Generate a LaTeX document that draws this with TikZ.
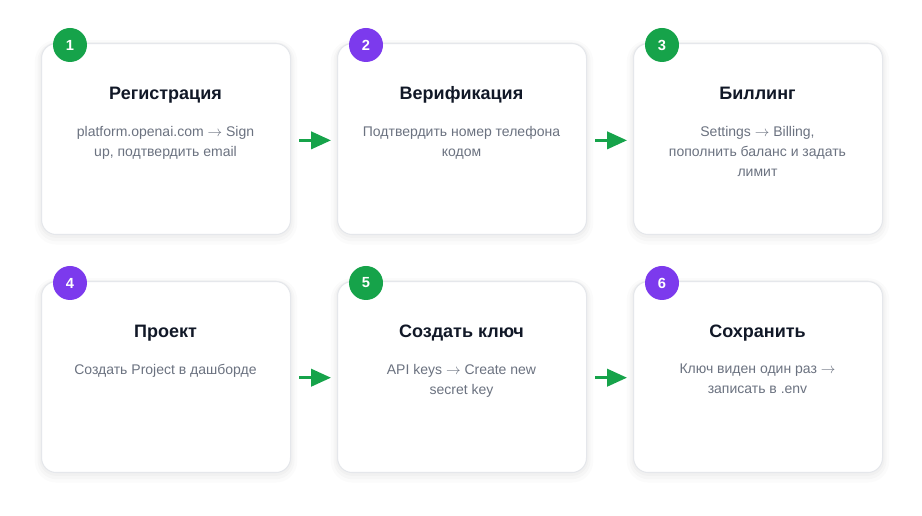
\documentclass[tikz,border=0pt]{standalone}
\usepackage{fontspec}
\setmainfont{Liberation Sans}
\usetikzlibrary{arrows.meta}
\definecolor{cgreen}{HTML}{16A34A}
\definecolor{cpurple}{HTML}{7C3AED}
\definecolor{cborder}{HTML}{E5E7EB}
\definecolor{ctitle}{HTML}{111827}
\definecolor{cdesc}{HTML}{6B7280}
\newcommand{\ra}{\ensuremath{\rightarrow}}
\tikzset{
  card/.style={draw=cborder, line width=0.8pt, fill=white, rounded corners=11pt,
    minimum width=186.75pt, minimum height=143.25pt, inner sep=0pt, anchor=north west,
    preaction={draw=black, draw opacity=0.015, line width=10pt, transform canvas={yshift=-2.5pt}},
    preaction={draw=black, draw opacity=0.02, line width=6pt, transform canvas={yshift=-2pt}},
    preaction={draw=black, draw opacity=0.02, line width=3pt, transform canvas={yshift=-1pt}}},
  badge/.style={circle, minimum size=25.5pt, inner sep=0pt, text=white,
    font=\fontsize{11pt}{12pt}\selectfont\bfseries},
  ttl/.style={anchor=base, inner sep=0pt, text=ctitle, font=\fontsize{13.5pt}{15pt}\selectfont\bfseries},
  dsc/.style={anchor=north, inner sep=0pt, align=center, text=cdesc, font=\fontsize{10.5pt}{15pt}\selectfont},
  arr/.style={draw=cgreen, line width=2.25pt, -{Triangle[length=15pt,width=13pt]}}
}
\begin{document}
\begin{tikzpicture}[x=0.75pt,y=-0.75pt]
\useasboundingbox[fill=white] (0,0) rectangle (922,516);
% cards
\node[card] (c1) at (41,43) {};
\node[card] (c2) at (337,43) {};
\node[card] (c3) at (633,43) {};
\node[card] (c4) at (41,281) {};
\node[card] (c5) at (337,281) {};
\node[card] (c6) at (633,281) {};
% badges
\node[badge, fill=cgreen] (b1) at (70,45) {1};
\node[badge, fill=cpurple] (b2) at (366,45) {2};
\node[badge, fill=cgreen] (b3) at (662,45) {3};
\node[badge, fill=cpurple] (b4) at (70,283) {4};
\node[badge, fill=cgreen] (b5) at (366,283) {5};
\node[badge, fill=cpurple] (b6) at (662,283) {6};
% titles
\node[ttl] (t1) at (165.5,99.5) {Регистрация};
\node[ttl] (t2) at (461.5,99.5) {Верификация};
\node[ttl] (t3) at (757.5,99.5) {Биллинг};
\node[ttl] (t4) at (165.5,337.5) {Проект};
\node[ttl] (t5) at (461.5,337.5) {Создать ключ};
\node[ttl] (t6) at (757.5,337.5) {Сохранить};
% descriptions
\node[dsc] (d1) at (165.5,126) {platform.openai.com \ra{} Sign\\up, подтвердить email};
\node[dsc] (d2) at (461.5,126) {Подтвердить номер телефона\\кодом};
\node[dsc] (d3) at (757.5,126) {Settings \ra{} Billing,\\пополнить баланс и задать\\лимит};
\node[dsc] (d4) at (165.5,364) {Создать Project в дашборде};
\node[dsc] (d5) at (461.5,364) {API keys \ra{} Create new\\secret key};
\node[dsc] (d6) at (757.5,364) {Ключ виден один раз \ra\\записать в .env};
% arrows
\draw[arr] ([xshift=6pt,yshift=-1pt]c1.east) -- ([xshift=-4.5pt,yshift=-1pt]c2.west);
\draw[arr] ([xshift=6pt,yshift=-1pt]c2.east) -- ([xshift=-4.5pt,yshift=-1pt]c3.west);
\draw[arr] ([xshift=6pt,yshift=-0.5pt]c4.east) -- ([xshift=-4.5pt,yshift=-0.5pt]c5.west);
\draw[arr] ([xshift=6pt,yshift=-0.5pt]c5.east) -- ([xshift=-4.5pt,yshift=-0.5pt]c6.west);
\end{tikzpicture}
\end{document}
